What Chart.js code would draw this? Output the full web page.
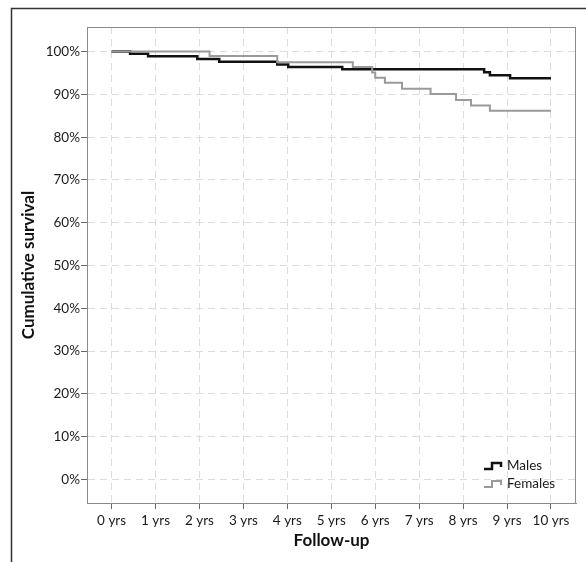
<!DOCTYPE html>
<html>
<head>
<meta charset="utf-8">
<script src="https://cdn.jsdelivr.net/npm/chart.js@4/dist/chart.umd.min.js"></script>
<style>
html,body{margin:0;padding:0;background:#fff;}
#wrap{position:relative;width:586px;height:562px;}
</style>
</head>
<body>
<div id="wrap"><canvas id="c" width="586" height="562"></canvas></div>
<script>
// Data (years of follow-up, cumulative survival %)
const maleTimes   = [0, 0.42, 0.83, 1.95, 2.45, 3.77, 4.02, 5.25, 8.48, 8.61, 9.07, 10];
const maleSurv    = [100, 99.5, 98.9, 98.3, 97.6, 97.0, 96.4, 95.9, 95.2, 94.5, 93.8, 93.8];
const femaleTimes = [0, 2.23, 3.77, 5.49, 5.93, 6.0, 6.22, 6.61, 7.26, 7.84, 8.18, 8.61, 10];
const femaleSurv  = [100, 99.0, 97.5, 96.4, 95.1, 93.9, 92.7, 91.3, 90.1, 88.7, 87.4, 86.2, 86.2];
const xTickValues = [0, 1, 2, 3, 4, 5, 6, 7, 8, 9, 10];
const yTickValues = [0, 10, 20, 30, 40, 50, 60, 70, 80, 90, 100];
const seriesNames = ['Males', 'Females'];

const toPts = (t, s) => t.map((v, i) => ({x: v, y: s[i]}));

const FONT = 'Lato, "Open Sans", sans-serif';

const framePlugin = {
  id: 'frames',
  afterDraw(chart) {
    const ctx = chart.ctx, a = chart.chartArea;
    ctx.save();
    // plot box
    ctx.strokeStyle = '#8a8a8a';
    ctx.lineWidth = 1;
    ctx.strokeRect(Math.round(a.left) + 0.5, Math.round(a.top) + 0.5,
                   Math.round(a.right - a.left) - 1, Math.round(a.bottom - a.top));
    // outer frame (left and top edges)
    ctx.strokeStyle = '#333';
    ctx.lineWidth = 1.5;
    ctx.beginPath();
    ctx.moveTo(11.5, 562);
    ctx.lineTo(11.5, 8.5);
    ctx.lineTo(586, 8.5);
    ctx.stroke();

    // legend
    const items = [
      {label: seriesNames[0], color: '#111', w: 2.5, y: 466},
      {label: seriesNames[1], color: '#9a9a9a', w: 2, y: 484}
    ];
    ctx.font = '13.5px ' + FONT;
    ctx.textBaseline = 'middle';
    ctx.textAlign = 'left';
    items.forEach(it => {
      const x0 = 484, y = it.y;
      ctx.strokeStyle = it.color;
      ctx.lineWidth = it.w;
      ctx.beginPath();
      ctx.moveTo(x0, y + 3);
      ctx.lineTo(x0 + 8, y + 3);
      ctx.lineTo(x0 + 8, y - 3);
      ctx.lineTo(x0 + 17, y - 3);
      ctx.lineTo(x0 + 17, y + 1);
      ctx.stroke();
      ctx.fillStyle = '#1a1a1a';
      ctx.fillText(it.label, 507, y);
    });
    ctx.restore();
  }
};

new Chart(document.getElementById('c'), {
  type: 'line',
  data: {
    datasets: [
      {
        label: seriesNames[0],
        data: toPts(maleTimes, maleSurv),
        stepped: 'before',
        borderColor: '#111',
        borderWidth: 2.5,
        pointRadius: 0,
        fill: false,
        order: 1
      },
      {
        label: seriesNames[1],
        data: toPts(femaleTimes, femaleSurv),
        stepped: 'before',
        borderColor: '#9a9a9a',
        borderWidth: 2,
        pointRadius: 0,
        fill: false,
        order: 0
      }
    ]
  },
  options: {
    responsive: false,
    animation: false,
    layout: {padding: {left: 0, top: 27, right: 10, bottom: 0}},
    plugins: {legend: {display: false}, tooltip: {enabled: false}},
    scales: {
      x: {
        type: 'linear',
        min: -0.56,
        max: 10.57,
        afterBuildTicks: s => { s.ticks = xTickValues.map(v => ({value: v})); },
        afterFit: s => { s.height = 59; },
        ticks: {
          callback: v => v + ' yrs',
          color: '#1a1a1a',
          font: {family: FONT, size: 13.5},
          padding: 4,
          maxRotation: 0,
          autoSkip: false
        },
        grid: {
          color: '#dcdcdc',
          lineWidth: 1,
          tickLength: 6,
          tickColor: '#666',
          tickBorderDash: [],
          drawTicks: true
        },
        border: {display: true, color: '#8a8a8a', width: 1, dash: [7, 5]},
        title: {
          display: true,
          text: 'Follow-up',
          color: '#111',
          font: {family: FONT, size: 17, weight: 'bold'},
          padding: {top: 0, bottom: 11}
        }
      },
      y: {
        min: -5.5,
        max: 105.75,
        afterBuildTicks: s => { s.ticks = yTickValues.map(v => ({value: v})); },
        afterFit: s => { s.width = 87; },
        ticks: {
          callback: v => v + '%',
          color: '#1a1a1a',
          font: {family: FONT, size: 13.5},
          padding: 1
        },
        grid: {
          color: '#dcdcdc',
          lineWidth: 1,
          tickLength: 6,
          tickColor: '#666',
          tickBorderDash: [],
          drawTicks: true
        },
        border: {display: true, color: '#8a8a8a', width: 1, dash: [7, 5]},
        title: {
          display: true,
          text: 'Cumulative survival',
          color: '#111',
          font: {family: FONT, size: 17, weight: 'bold'},
          padding: {top: 18, bottom: 0}
        }
      }
    }
  },
  plugins: [framePlugin]
});
</script>
</body>
</html>
